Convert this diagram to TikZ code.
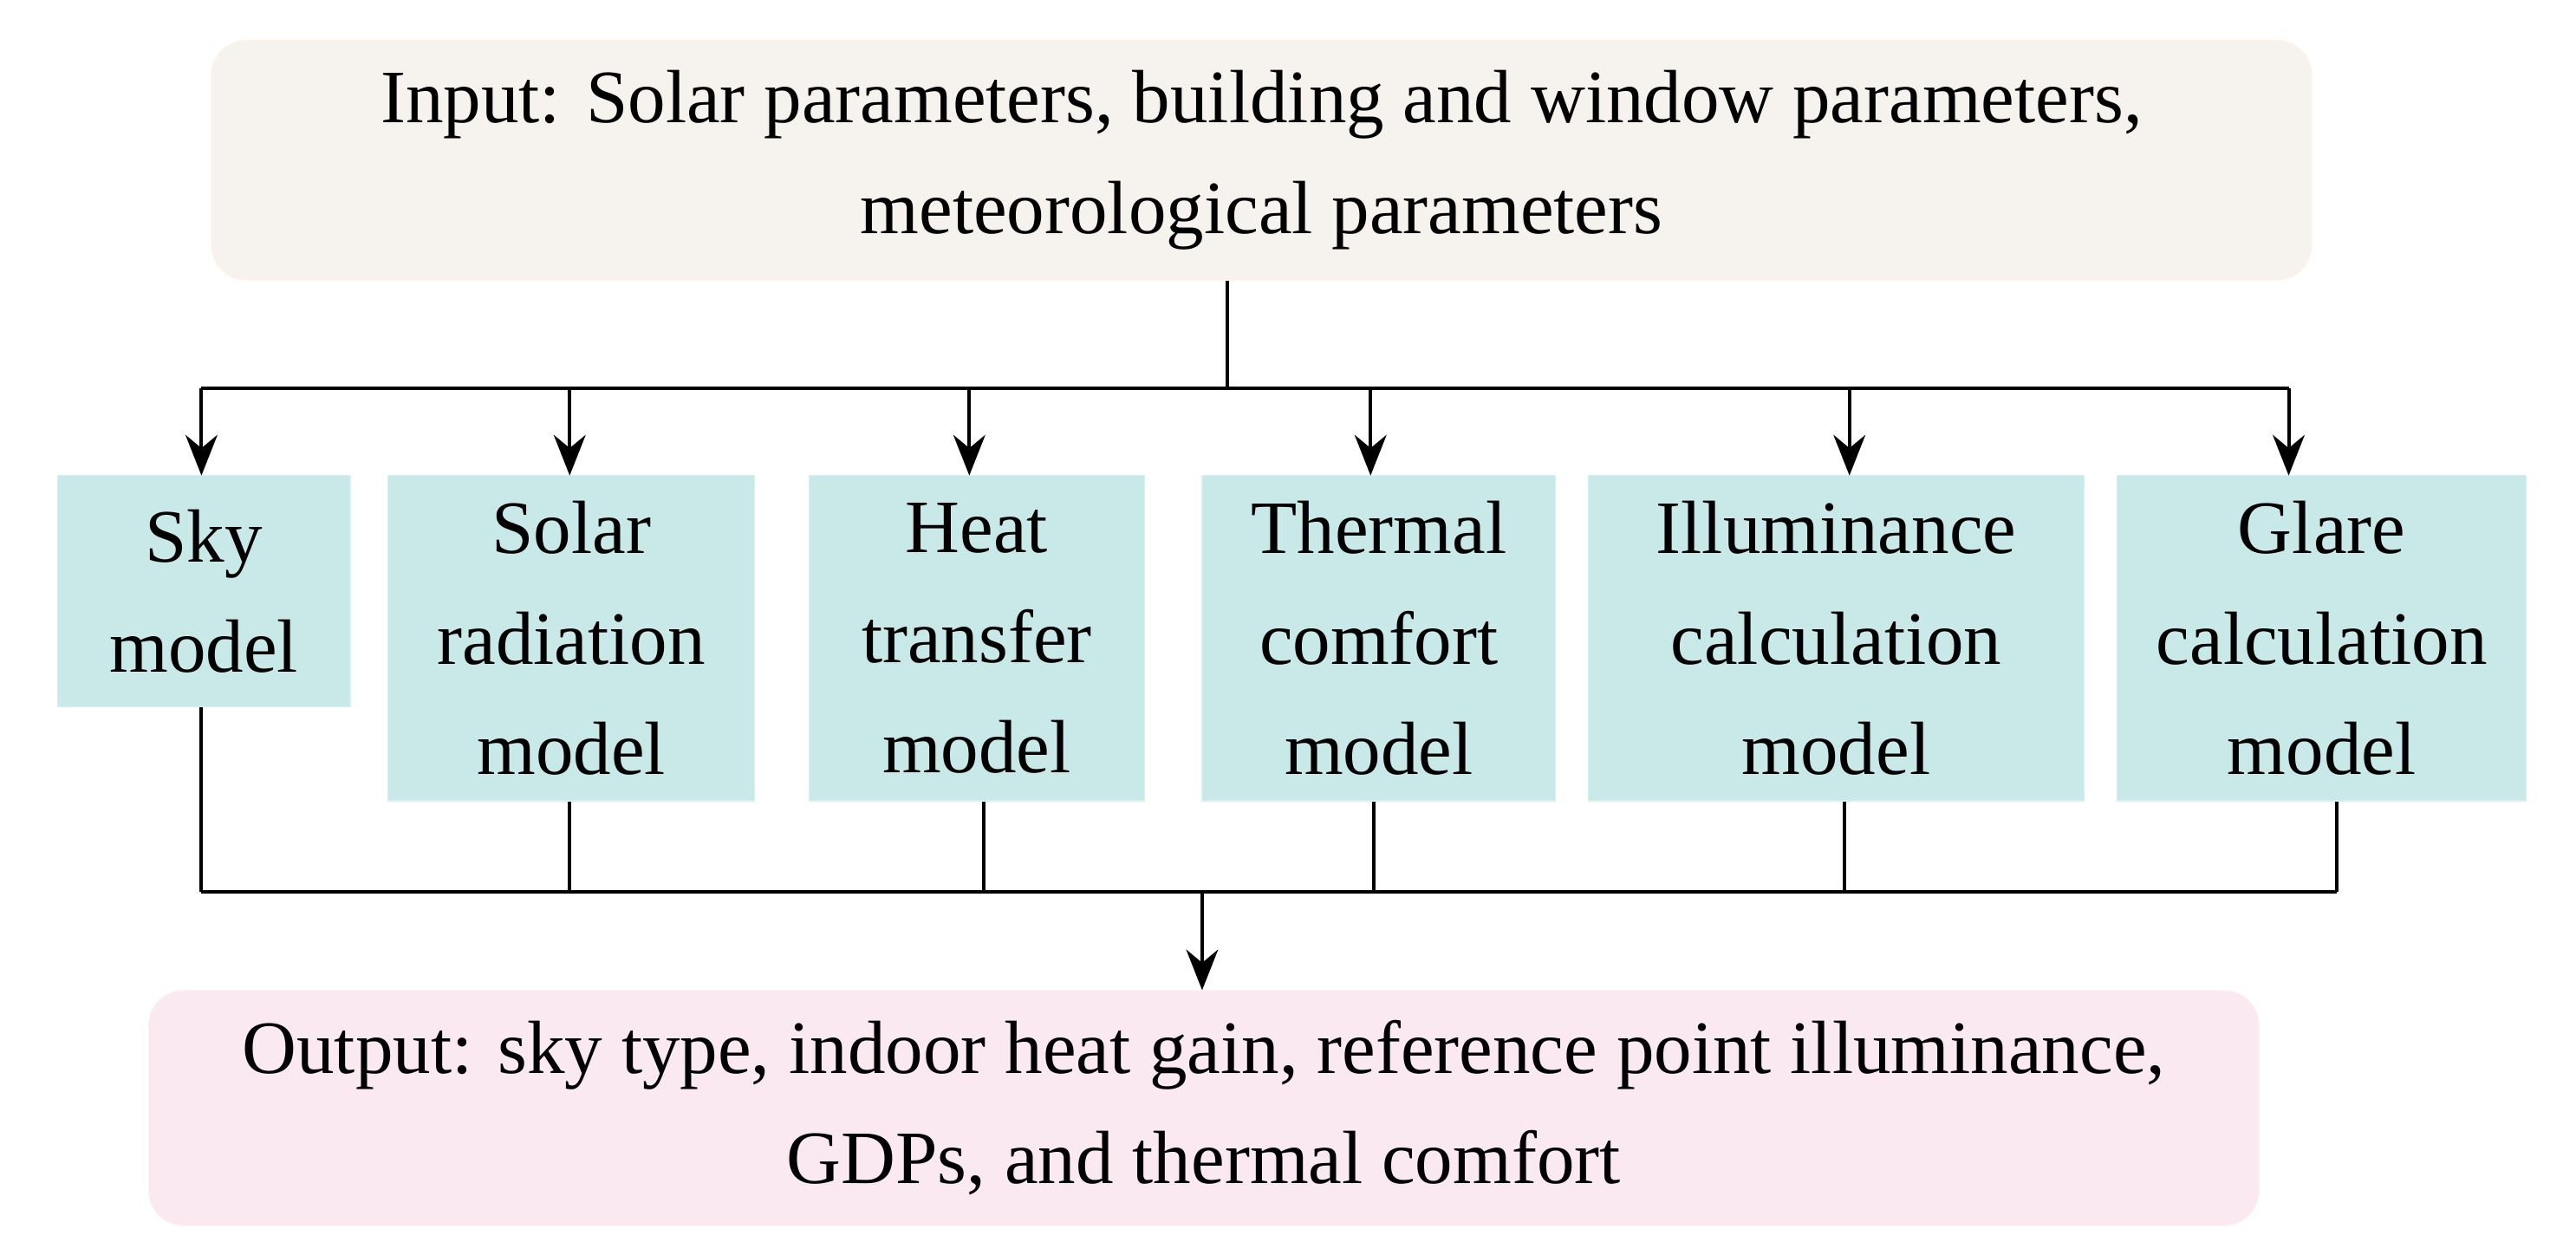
\documentclass[tikz,border=0pt]{standalone}
\usepackage{fontspec}
\setmainfont{Liberation Serif}
\usetikzlibrary{positioning, arrows.meta}
\definecolor{modelfill}{HTML}{C9E8E8}
\definecolor{infill}{HTML}{F6F3EE}
\definecolor{outfill}{HTML}{FBE9F1}
\tikzset{
  model/.style={draw=modelfill!70!white, fill=modelfill, align=center, inner sep=0pt},
  iobox/.style={rounded corners=12pt, align=center, inner sep=0pt},
  link/.style={line width=1.2pt},
  arr/.style={link, -{Stealth[length=14pt,width=11pt]}}
}
\begin{document}
\begin{tikzpicture}[x=0.02cm, y=-0.02cm, font=\fontsize{26}{38}\selectfont]
        \useasboundingbox (0,0) rectangle (1560,760);
        % Input and output
        \node[iobox, draw=orange!10, fill=infill, minimum width=25.44cm, minimum height=2.9cm] (in) at (764,97) {Input: Solar parameters, building and window parameters,\\meteorological parameters};
        \node[iobox, draw=pink!30, fill=outfill, minimum width=25.56cm, minimum height=2.84cm] (out) at (729,671) {Output: sky type, indoor heat gain, reference point illuminance,\\GDPs, and thermal comfort};
        % Models
        \node[model, minimum width=3.54cm, minimum height=2.8cm] (sky) at (123.5,358) {Sky\\model};
        \node[model, minimum width=4.44cm, minimum height=3.94cm] (solar) at (346,386.5) {Solar\\radiation\\model};
        \node[model, minimum width=4.06cm, minimum height=3.94cm] (heat) at (591.5,386.5) {Heat\\transfer\\model};
        \node[model, minimum width=4.28cm, minimum height=3.94cm] (comfort) at (835,386.5) {Thermal\\comfort\\model};
        \node[model, minimum width=6cm, minimum height=3.94cm] (illum) at (1112,386.5) {Illuminance\\calculation\\model};
        \node[model, minimum width=4.96cm, minimum height=3.94cm] (glare) at (1406,386.5) {Glare\\calculation\\model};
        % Connectors
        \coordinate (split) at (743,235);
        \coordinate (join) at (728,540);
        \draw[link] (in.south -| split) -- (split);
        \draw[link] (122,235) -- (1386,235);
        \foreach \n/\x in {sky/122, solar/345, heat/587, comfort/830, illum/1120, glare/1386}
          \draw[arr] (\x,235) -- (\x,288);
        \foreach \n/\x in {sky/122, solar/345, heat/596, comfort/832, illum/1117, glare/1415}
          \draw[link] (\n.south -| \x,0) -- (\x,540);
        \draw[link] (122,540) -- (1415,540);
        \draw[arr] (join) -- (out.north -| join);
    \end{tikzpicture}
\end{document}
